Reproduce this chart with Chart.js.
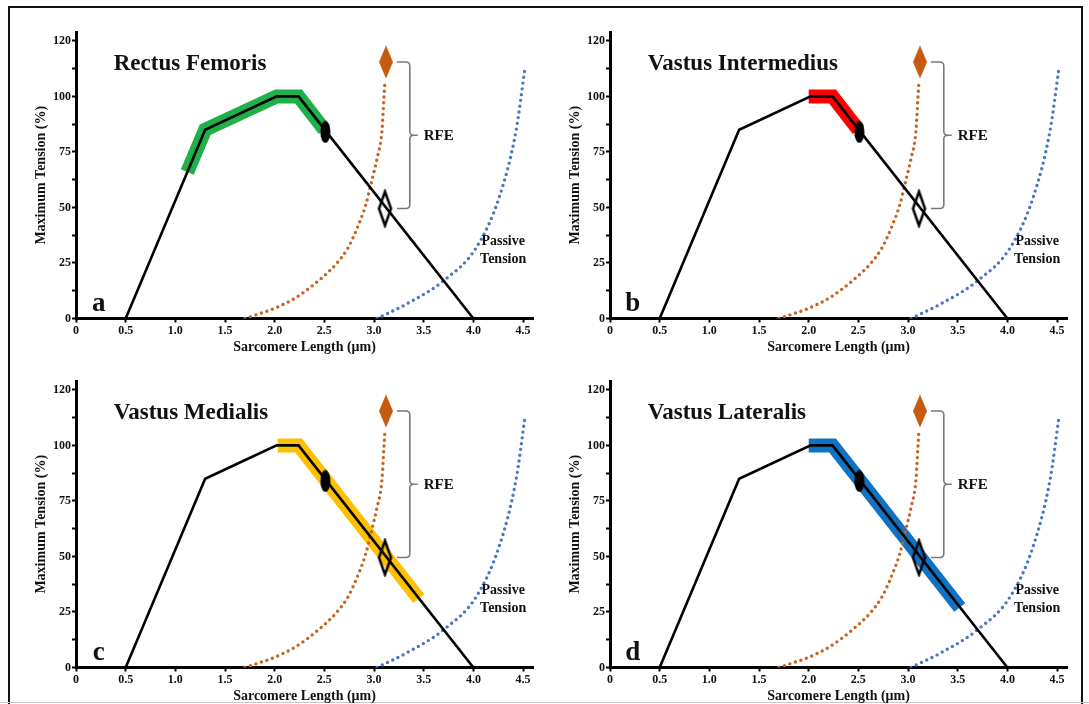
<!DOCTYPE html>
<html>
<head>
<meta charset="utf-8">
<script src="https://cdn.jsdelivr.net/npm/chart.js@4"></script>
<style>
  html, body { margin: 0; padding: 0; background: #fff; }
  body { width: 1089px; height: 704px; position: relative; overflow: hidden; }
  .frame { position: absolute; left: 8px; top: 6px; width: 1071px; height: 720px; border: 2px solid #111; }
  .baseline { position: absolute; left: 0; top: 702px; width: 1089px; height: 1px; background: #c8c8c8; }
  .panel { position: absolute; width: 545px; height: 356px; }
</style>
</head>
<body>
<div class="frame"></div>
<div class="baseline"></div>
<div class="panel" style="left:0px;top:0px"><canvas id="p0" width="545" height="356"></canvas></div>
<div class="panel" style="left:534px;top:0px"><canvas id="p1" width="545" height="356"></canvas></div>
<div class="panel" style="left:0px;top:349px"><canvas id="p2" width="545" height="356"></canvas></div>
<div class="panel" style="left:534px;top:349px"><canvas id="p3" width="545" height="356"></canvas></div>
<script>
// axis ticks
const X_TICKS = [0, 0.5, 1, 1.5, 2, 2.5, 3, 3.5, 4, 4.5];
const X_TICK_LABELS = ["0", "0.5", "1.0", "1.5", "2.0", "2.5", "3.0", "3.5", "4.0", "4.5"];
const Y_TICKS = [0, 12.5, 25, 37.5, 50, 62.5, 75, 87.5, 100, 112.5, 125];
const Y_TICK_LABELS = ["0", "", "25", "", "50", "", "75", "", "100", "", "120"];

// panels
const MUSCLES = ["Rectus Femoris", "Vastus Intermedius", "Vastus Medialis", "Vastus Lateralis"];
const PANEL_LETTERS = ["a", "b", "c", "d"];
const BAND_COLORS = ["#1fb04a", "#fe0000", "#ffc000", "#0f72c2"];

// active force-length curve (same in every panel)
const ACTIVE_X = [0.5, 1.3, 2.02, 2.24, 4.0];
const ACTIVE_Y = [0, 85, 100, 100, 0];

// operating range band of each muscle
const BAND_X = [
  [1.12, 1.3, 2.02, 2.24, 2.5],
  [2.0, 2.02, 2.24, 2.5],
  [2.03, 2.24, 3.45],
  [2.0, 2.02, 2.24, 3.52],
];
const BAND_Y = [
  [66, 85, 100, 100, 85],
  [100, 100, 100, 85],
  [100, 100, 31],
  [100, 100, 100, 27],
];

// residual force enhancement curve (orange dots)
const RFE_X = [1.7, 2.02, 2.22, 2.44, 2.62, 2.74, 2.82, 2.92, 2.97, 3.03, 3.08, 3.10, 3.11];
const RFE_Y = [0, 5, 9.6, 17, 24.6, 32, 39.6, 51.7, 60.7, 72, 84.7, 99.7, 107];

// passive tension curve (blue dots)
const PASSIVE_X = [3.03, 3.33, 3.70, 4.03, 4.26, 4.43, 4.52];
const PASSIVE_Y = [0, 6.6, 17, 32, 54.6, 84.7, 113];

// markers
const ELLIPSE_PT = [2.51, 84];
const OPEN_DIAMOND_PT = [3.11, 49.5];
const RFE_DIAMOND_PT = [3.12, 115.5];

const SERIF = '"Liberation Serif", "Times New Roman", "DejaVu Serif", serif';

function pts(xs, ys) {
  return xs.map((x, i) => ({ x: x, y: ys[i] }));
}

function makeEllipse(w, h, color) {
  const c = document.createElement("canvas");
  c.width = w; c.height = h;
  const g = c.getContext("2d");
  g.fillStyle = color;
  g.beginPath();
  g.ellipse(w / 2, h / 2, w / 2 - 0.5, h / 2 - 0.5, 0, 0, Math.PI * 2);
  g.fill();
  return c;
}

function makeDiamond(w, h, fill, stroke, lw) {
  const c = document.createElement("canvas");
  c.width = w; c.height = h;
  const g = c.getContext("2d");
  const m = lw ? lw : 0;
  g.beginPath();
  g.moveTo(w / 2, m);
  g.lineTo(w - m, h / 2);
  g.lineTo(w / 2, h - m);
  g.lineTo(m, h / 2);
  g.closePath();
  if (fill) { g.fillStyle = fill; g.fill(); }
  if (stroke) { g.strokeStyle = stroke; g.lineWidth = lw; g.lineJoin = "miter"; g.stroke(); }
  return c;
}

const ellipseImg = makeEllipse(11, 23, "#000");
const openDiamondImg = makeDiamond(17, 39, null, "#000", 2.5);
const rfeDiamondImg = makeDiamond(14, 33, "#c55a11", null, 0);

// labels, bracket and panel letter
const annotationPlugin = {
  id: "annotations",
  afterDatasetsDraw(chart, args, opts) {
    const { ctx } = chart;
    const xs = chart.scales.x, ys = chart.scales.y;
    const px = v => xs.getPixelForValue(v);
    const py = v => ys.getPixelForValue(v);
    ctx.save();

    // RFE bracket between the two diamonds
    const yTop = py(RFE_DIAMOND_PT[1]);
    const yBot = py(OPEN_DIAMOND_PT[1]);
    const yMid = (yTop + yBot) / 2;
    const x0 = px(3.23), x1 = px(3.36), x2 = px(3.44);
    const r = 4;
    ctx.strokeStyle = "#7a7a7a";
    ctx.lineWidth = 1.6;
    ctx.beginPath();
    ctx.moveTo(x0, yTop);
    ctx.lineTo(x1 - r, yTop);
    ctx.quadraticCurveTo(x1, yTop, x1, yTop + r);
    ctx.lineTo(x1, yMid - r);
    ctx.quadraticCurveTo(x1, yMid, x1 + r, yMid);
    ctx.lineTo(x2, yMid);
    ctx.moveTo(x1 + r, yMid);
    ctx.quadraticCurveTo(x1, yMid, x1, yMid + r);
    ctx.lineTo(x1, yBot - r);
    ctx.quadraticCurveTo(x1, yBot, x1 - r, yBot);
    ctx.lineTo(x0, yBot);
    ctx.stroke();

    ctx.fillStyle = "#111";
    ctx.font = "bold 15px " + SERIF;
    ctx.textAlign = "left";
    ctx.textBaseline = "middle";
    ctx.fillText("RFE", px(3.5), yMid + 1);

    ctx.font = "bold 14px " + SERIF;
    ctx.textAlign = "center";
    ctx.fillText("Passive", px(4.3), py(34.8));
    ctx.fillText("Tension", px(4.3), py(26.4));

    ctx.textAlign = "left";
    ctx.textBaseline = "alphabetic";
    ctx.font = "bold 23px " + SERIF;
    ctx.fillText(opts.title, px(0.38), py(111.7));

    ctx.font = "bold 27px " + SERIF;
    ctx.textAlign = "center";
    ctx.fillText(opts.letter, px(0.23), py(3.6));
    ctx.restore();
  },
};

function buildPanel(i) {
  const ctx = document.getElementById("p" + i).getContext("2d");
  new Chart(ctx, {
    type: "scatter",
    data: {
      datasets: [
        {
          data: pts([ELLIPSE_PT[0]], [ELLIPSE_PT[1]]),
          pointStyle: ellipseImg,
          pointRadius: 5,
          showLine: false,
        },
        {
          data: pts([OPEN_DIAMOND_PT[0]], [OPEN_DIAMOND_PT[1]]),
          pointStyle: openDiamondImg,
          pointRadius: 5,
          showLine: false,
        },
        {
          data: pts([RFE_DIAMOND_PT[0]], [RFE_DIAMOND_PT[1]]),
          pointStyle: rfeDiamondImg,
          pointRadius: 5,
          showLine: false,
        },
        {
          data: pts(ACTIVE_X, ACTIVE_Y),
          showLine: true,
          borderColor: "#000",
          borderWidth: 2.6,
          pointRadius: 0,
          borderJoinStyle: "miter",
        },
        {
          data: pts(RFE_X, RFE_Y),
          showLine: true,
          borderColor: "#c8621f",
          borderWidth: 3.4,
          borderDash: [0, 5.8],
          borderCapStyle: "round",
          cubicInterpolationMode: "monotone",
          pointRadius: 0,
        },
        {
          data: pts(PASSIVE_X, PASSIVE_Y),
          showLine: true,
          borderColor: "#4a74c6",
          borderWidth: 3.4,
          borderDash: [0, 5.8],
          borderCapStyle: "round",
          cubicInterpolationMode: "monotone",
          pointRadius: 0,
        },
        {
          data: pts(BAND_X[i], BAND_Y[i]),
          showLine: true,
          borderColor: BAND_COLORS[i],
          borderWidth: 14,
          borderCapStyle: "butt",
          borderJoinStyle: "miter",
          pointRadius: 0,
        },
      ],
    },
    options: {
      responsive: false,
      animation: false,
      events: [],
      layout: { padding: { left: 31, top: 32, right: 12, bottom: 0 } },
      plugins: {
        legend: { display: false },
        tooltip: { enabled: false },
        annotations: { title: MUSCLES[i], letter: PANEL_LETTERS[i] },
      },
      scales: {
        x: {
          type: "linear",
          min: 0,
          max: 4.6,
          afterBuildTicks: s => { s.ticks = X_TICKS.map(v => ({ value: v })); },
          afterFit: s => { s.height = 37.5; },
          ticks: {
            autoSkip: false,
            maxRotation: 0,
            padding: 1,
            color: "#111",
            font: { family: SERIF, size: 12, weight: "bold" },
            callback: (v, idx) => X_TICK_LABELS[idx],
          },
          grid: { drawOnChartArea: false, drawTicks: true, tickLength: 4, color: "#000", tickWidth: 2 },
          border: { color: "#000", width: 3 },
          title: {
            display: true,
            text: "Sarcomere Length (μm)",
            color: "#111",
            font: { family: SERIF, size: 14, weight: "bold" },
            padding: { top: 0, bottom: 0 },
          },
        },
        y: {
          type: "linear",
          min: 0,
          max: 129,
          afterBuildTicks: s => { s.ticks = Y_TICKS.map(v => ({ value: v })); },
          afterFit: s => { s.width = 45; },
          ticks: {
            autoSkip: false,
            padding: 1,
            color: "#111",
            font: { family: SERIF, size: 12, weight: "bold" },
            callback: (v, idx) => Y_TICK_LABELS[idx],
          },
          grid: { drawOnChartArea: false, drawTicks: true, tickLength: 4, color: "#000", tickWidth: 2 },
          border: { color: "#000", width: 3 },
          title: {
            display: true,
            text: "Maximum Tension (%)",
            color: "#111",
            font: { family: SERIF, size: 14, weight: "bold" },
            padding: { top: 2, bottom: 0 },
          },
        },
      },
    },
    plugins: [annotationPlugin],
  });
}

[0, 1, 2, 3].forEach(buildPanel);
</script>
</body>
</html>
